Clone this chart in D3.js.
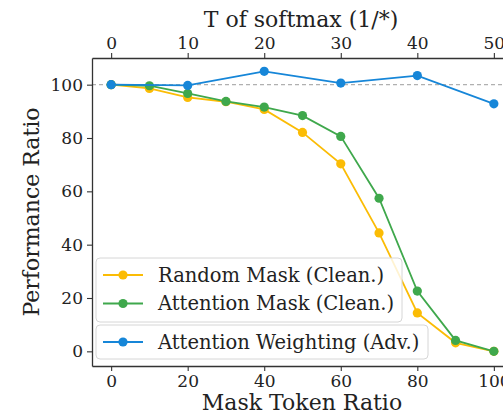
<!DOCTYPE html>
<html>
<head>
<meta charset="utf-8">
<script src="https://cdn.jsdelivr.net/npm/d3@7"></script>
<style>
  html, body { margin: 0; padding: 0; background: #fff; }
  svg { display: block; }
  svg text { font-family: "DejaVu Serif", serif; }
</style>
</head>
<body>
<svg id="chart" width="503" height="417"></svg>
<script>
// Mask token ratio (bottom axis) shared by the two masking curves
const maskRatio = [0, 10, 20, 30, 40, 50, 60, 70, 80, 90, 100];
const randomMask = [100, 98.6, 95.2, 93.6, 90.7, 82.1, 70.3, 44.4, 14.4, 3.2, 0];
const attentionMask = [100, 99.6, 96.7, 93.7, 91.6, 88.4, 80.6, 57.4, 22.6, 4.1, 0];

// Softmax temperature (top axis) for the weighting curve
const softmaxT = [0, 10, 20, 30, 40, 50];
const attentionWeighting = [100, 99.7, 105.0, 100.6, 103.4, 92.8];

const maskTicks = [0, 20, 40, 60, 80, 100];
const tTicks = [0, 10, 20, 30, 40, 50];
const yTicks = [0, 20, 40, 60, 80, 100];

const colors = { random: "#fbbc05", attention: "#3fa84c", weighting: "#1686d8" };

const svg = d3.select("#chart");
const plotLeft = 92, plotRight = 513, plotTop = 58, plotBottom = 366;

const x = d3.scaleLinear().domain([-5, 105]).range([plotLeft, plotRight]);
const xTop = d3.scaleLinear().domain([-2.5, 52.5]).range([plotLeft, plotRight]);
const y = d3.scaleLinear().domain([-5.5, 110]).range([plotBottom, plotTop]);

// reference line at 100
svg.append("line")
  .attr("x1", plotLeft).attr("x2", plotRight)
  .attr("y1", y(100)).attr("y2", y(100))
  .attr("stroke", "#b0b0b0").attr("stroke-width", 1.1)
  .attr("stroke-dasharray", "4,3");

function styleAxis(g) {
  g.attr("font-family", null).attr("font-size", null);
  g.selectAll("path.domain").attr("stroke", "#333").attr("stroke-width", 1.3);
  g.selectAll(".tick line").attr("stroke", "#333").attr("stroke-width", 1.1);
  g.selectAll(".tick text").attr("fill", "#222").style("font-size", "17px");
}

svg.append("g").attr("transform", `translate(0,${plotBottom})`)
  .call(d3.axisBottom(x).tickValues(maskTicks).tickSize(5).tickPadding(4).tickSizeOuter(0))
  .call(styleAxis);

svg.append("g").attr("transform", `translate(0,${plotTop})`)
  .call(d3.axisTop(xTop).tickValues(tTicks).tickSize(5).tickPadding(4).tickSizeOuter(0))
  .call(styleAxis);

svg.append("g").attr("transform", `translate(${plotLeft},0)`)
  .call(d3.axisLeft(y).tickValues(yTicks).tickSize(5).tickPadding(4).tickSizeOuter(0))
  .call(styleAxis);

// axis titles
svg.append("text").attr("x", 302).attr("y", 410).attr("text-anchor", "middle")
  .attr("fill", "#222").style("font-size", "22px").text("Mask Token Ratio");
svg.append("text").attr("x", 301).attr("y", 27).attr("text-anchor", "middle")
  .attr("fill", "#222").style("font-size", "22px").text("T of softmax (1/*)");
svg.append("text").attr("transform", `translate(39,${(plotTop + plotBottom) / 2}) rotate(-90)`)
  .attr("text-anchor", "middle").attr("fill", "#222").style("font-size", "22px")
  .text("Performance Ratio");

function drawSeries(xs, ys, xScale, color) {
  const pts = xs.map((v, i) => [v, ys[i]]);
  const g = svg.append("g");
  g.append("path").datum(pts)
    .attr("fill", "none").attr("stroke", color).attr("stroke-width", 1.8)
    .attr("d", d3.line().x(d => xScale(d[0])).y(d => y(d[1])));
  g.selectAll("circle").data(pts).join("circle")
    .attr("cx", d => xScale(d[0])).attr("cy", d => y(d[1])).attr("r", 4.6)
    .attr("fill", color);
}

drawSeries(maskRatio, randomMask, x, colors.random);
drawSeries(maskRatio, attentionMask, x, colors.attention);
drawSeries(softmaxT, attentionWeighting, xTop, colors.weighting);

// legends
function legendBox(x0, y0, w, h, entries) {
  svg.append("rect").attr("x", x0).attr("y", y0).attr("width", w).attr("height", h)
    .attr("rx", 4).attr("fill", "#fff").attr("fill-opacity", 0.82)
    .attr("stroke", "#d6d6d6").attr("stroke-width", 1);
  entries.forEach((e, i) => {
    const cy = y0 + 17 + i * 28.5;
    svg.append("line").attr("x1", x0 + 7).attr("x2", x0 + 47).attr("y1", cy).attr("y2", cy)
      .attr("stroke", e.color).attr("stroke-width", 1.8);
    svg.append("circle").attr("cx", x0 + 27).attr("cy", cy).attr("r", 4.6).attr("fill", e.color);
    svg.append("text").attr("x", x0 + 62).attr("y", cy).attr("dy", "0.35em")
      .attr("fill", "#222").style("font-size", "19.5px").text(e.label);
  });
}

legendBox(96, 258, 306, 64, [
  { label: "Random Mask (Clean.)", color: colors.random },
  { label: "Attention Mask (Clean.)", color: colors.attention }
]);
legendBox(96, 325, 332, 34, [
  { label: "Attention Weighting (Adv.)", color: colors.weighting }
]);
</script>
</body>
</html>
